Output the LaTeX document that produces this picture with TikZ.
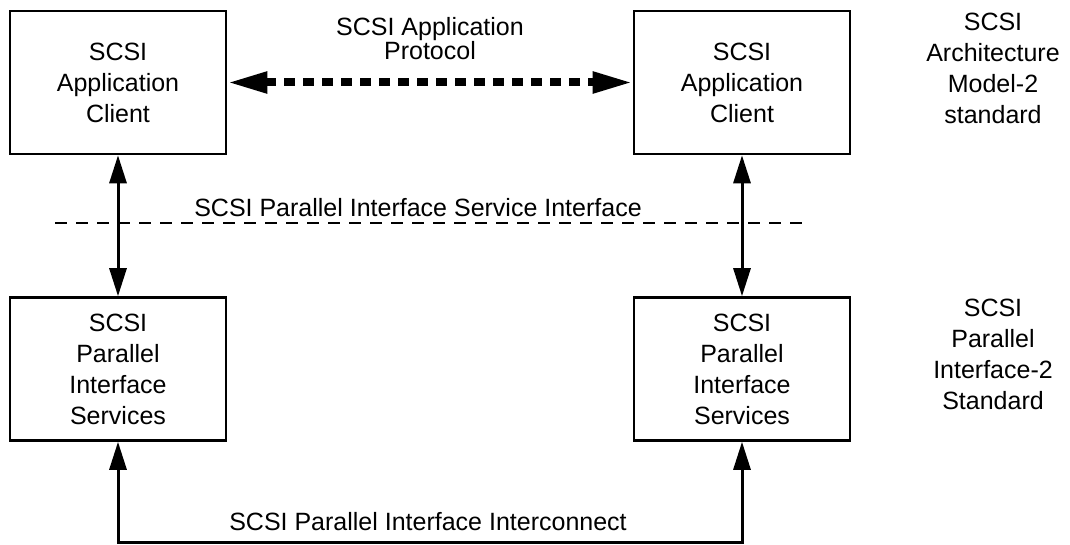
\documentclass[tikz,border=0pt]{standalone}
\usepackage{fontspec}
\setmainfont{Liberation Sans}
\usetikzlibrary{arrows.meta}
\tikzset{
  box/.style={draw, line width=2.6pt, minimum width=216pt, minimum height=143pt, align=center, inner sep=0pt, font=\fontsize{25}{31}\selectfont},
  lbl/.style={align=center, inner sep=0pt, font=\fontsize{25}{31}\selectfont},
  arr/.style={line width=3pt, {Triangle[length=28pt,width=17pt]}-{Triangle[length=28pt,width=17pt]}},
  dotarr/.style={line width=8pt, dash pattern=on 11pt off 8pt, {Triangle[length=40pt,width=20pt]}-{Triangle[length=40pt,width=20pt]}},
  dashline/.style={line width=2.6pt, dash pattern=on 12pt off 9pt}
}
\begin{document}
\begin{tikzpicture}[x=1pt,y=-1pt]
\useasboundingbox (0,0) rectangle (1070,545);
\node[box] (tl) at (118,82.5) {SCSI\\Application\\Client};
\node[box] (tr) at (742,82.5) {SCSI\\Application\\Client};
\node[box] (bl) at (118,369) {SCSI\\Parallel\\Interface\\Services};
\node[box] (br) at (742,369) {SCSI\\Parallel\\Interface\\Services};
\node[lbl, font=\fontsize{25}{24}\selectfont] (proto) at (430,39) {SCSI Application\\Protocol};
\node[lbl] (ssi) at (418,208) {SCSI Parallel Interface Service Interface};
\node[lbl] (ic) at (428,522) {SCSI Parallel Interface Interconnect};
\node[lbl] (sam) at (993,68) {SCSI\\Architecture\\Model-2\\standard};
\node[lbl] (spi) at (993,354) {SCSI\\Parallel\\Interface-2\\Standard};
\coordinate (dl) at (55,223);
\coordinate (dr) at (805,223);
\coordinate (bot) at (430,542);
\draw[dashline] (dl) -- (dr);
\draw[dotarr] (tl.east) -- (tr.west);
\draw[arr] (tl.south) -- (bl.north);
\draw[arr] (tr.south) -- (br.north);
\draw[arr] (bl.south) |- (bot) -| (br.south);
\end{tikzpicture}
\end{document}
